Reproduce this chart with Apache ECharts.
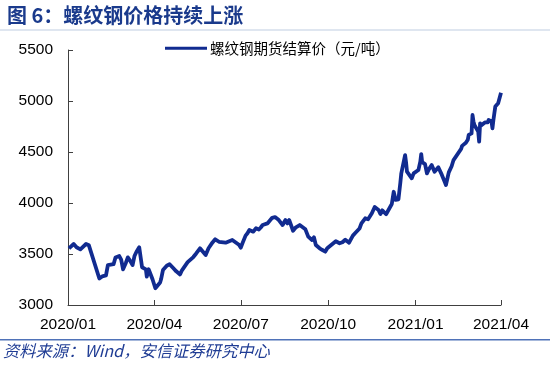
<!DOCTYPE html>
<html>
<head>
<meta charset="utf-8">
<script src="https://cdn.jsdelivr.net/npm/echarts@6/dist/echarts.min.js"></script>
<style>
html,body{margin:0;padding:0;background:#fff;}
#main{width:550px;height:370px;}
</style>
</head>
<body>
<div id="main"></div>
<script>
var dates = [
'2020-01-02','2020-01-07','2020-01-10','2020-01-14','2020-01-20','2020-01-21','2020-01-23',
'2020-02-03','2020-02-06','2020-02-10','2020-02-12','2020-02-14','2020-02-18','2020-02-20','2020-02-24','2020-02-26','2020-02-28',
'2020-03-02','2020-03-04','2020-03-06','2020-03-09','2020-03-11','2020-03-13','2020-03-16','2020-03-17','2020-03-19','2020-03-23','2020-03-24','2020-03-26','2020-03-30',
'2020-04-02','2020-04-07','2020-04-08','2020-04-10','2020-04-14','2020-04-17','2020-04-21','2020-04-24','2020-04-28','2020-04-30',
'2020-05-06','2020-05-08','2020-05-12','2020-05-15','2020-05-19','2020-05-21','2020-05-25','2020-05-28',
'2020-06-01','2020-06-04','2020-06-08','2020-06-10','2020-06-15','2020-06-17','2020-06-22','2020-06-29',
'2020-07-01','2020-07-03','2020-07-06','2020-07-08','2020-07-10','2020-07-14','2020-07-17','2020-07-20','2020-07-22','2020-07-24','2020-07-29',
'2020-08-03','2020-08-06','2020-08-10','2020-08-14','2020-08-17','2020-08-19','2020-08-21','2020-08-25','2020-08-28',
'2020-09-01','2020-09-03','2020-09-07','2020-09-10','2020-09-14','2020-09-16','2020-09-18','2020-09-22','2020-09-25','2020-09-28','2020-09-30',
'2020-10-09','2020-10-13','2020-10-16','2020-10-19','2020-10-21','2020-10-23','2020-10-27','2020-10-30',
'2020-11-03','2020-11-05','2020-11-09','2020-11-12','2020-11-16','2020-11-19','2020-11-23','2020-11-25','2020-11-27',
'2020-12-01','2020-12-03','2020-12-07','2020-12-09','2020-12-11','2020-12-14','2020-12-16','2020-12-17','2020-12-21','2020-12-22','2020-12-23','2020-12-28','2020-12-30',
'2021-01-04','2021-01-06','2021-01-07','2021-01-08','2021-01-11','2021-01-13','2021-01-15','2021-01-18','2021-01-21','2021-01-25','2021-01-28',
'2021-02-01','2021-02-02','2021-02-04','2021-02-05','2021-02-08','2021-02-10','2021-02-18','2021-02-19','2021-02-23','2021-02-25','2021-02-26',
'2021-03-01','2021-03-02','2021-03-03','2021-03-04','2021-03-05','2021-03-08','2021-03-09','2021-03-10','2021-03-11','2021-03-12','2021-03-15','2021-03-16','2021-03-17','2021-03-18','2021-03-19','2021-03-22','2021-03-23','2021-03-24','2021-03-25','2021-03-26','2021-03-29','2021-03-30','2021-03-31','2021-04-01'
];
var prices = [
3556,3598,3566,3546,3598,3588,3585,
3260,3280,3290,3390,3380,3400,3465,3480,3445,3350,
3415,3467,3440,3392,3480,3520,3566,3560,3370,3350,3278,3350,3252,
3164,3220,3252,3343,3385,3400,3360,3330,3300,3340,
3420,3430,3470,3505,3556,3540,3490,3556,
3611,3644,3620,3605,3611,3605,3637,3590,
3562,3611,3680,3703,3735,3719,3752,3740,3760,3784,3800,
3855,3862,3833,3784,3833,3800,3833,3728,3762,
3784,3800,3742,3670,3637,3664,3588,3556,3539,3523,3556,
3625,3605,3615,3640,3654,3611,3680,3710,
3750,3800,3850,3840,3899,3960,3931,3892,3928,
3890,3905,3990,4110,4030,4036,4200,4291,4470,4400,4307,4242,4290,
4323,4405,4480,4400,4382,4291,4330,4372,4307,4350,4291,
4200,4176,4260,4300,4360,4421,4530,4560,4590,4620,4667,
4683,4863,4800,4765,4781,4700,4601,4781,4760,4748,4790,4797,4781,4790,4814,4800,4732,4814,4880,4945,4977,4980,4977,5080
];
var xTickDates = ['2020-01-01','2020-04-01','2020-07-01','2020-10-01','2021-01-01','2021-04-01'];
var xTickLabels = ['2020/01','2020/04','2020/07','2020/10','2021/01','2021/04'];
var yTicks = [3000,3500,4000,4500,5000,5500];
var seriesName = '螺纹钢期货结算价（元/吨）';
var titleText = '图 6：螺纹钢价格持续上涨';
var sourceText = '资料来源：Wind，安信证券研究中心';

function toTs(s){var p=s.split('-');return Date.UTC(+p[0],+p[1]-1,+p[2]);}
var tickTs = xTickDates.map(toTs);
var labelMap = {};
tickTs.forEach(function(t,i){labelMap[t]=xTickLabels[i];});
var seriesData = dates.map(function(d,i){return [toTs(d),prices[i]];});

var chart = echarts.init(document.getElementById('main'));
var lineColor = '#112b90';
chart.setOption({
  animation:false,
  backgroundColor:'#fff',
  title:{
    text:titleText,
    left:2, top:0,
    textStyle:{fontFamily:'"Noto Sans CJK SC","Noto Sans",sans-serif',fontSize:20,fontWeight:'bold',color:'#1a3a8c'}
  },
  graphic:[
    {type:'rect',shape:{x:0,y:29,width:550,height:2},style:{fill:'#dfe6f0'}},
    {type:'rect',shape:{x:0,y:339,width:550,height:1.5},style:{fill:'#4f72b8'}},
    {type:'text',left:3,top:343,style:{text:sourceText,fill:'#1f3c94',font:'italic 16.3px "Noto Sans CJK SC", "Liberation Sans", sans-serif'}}
  ],
  legend:{
    left:160, top:36,
    itemWidth:42, itemHeight:10, itemGap:4,
    icon:'path://M0,3.5L42,3.5L42,6.5L0,6.5Z',
    textStyle:{fontFamily:'"Noto Sans CJK SC",sans-serif',fontSize:14.5,color:'#000',padding:[0,0,0,-2]},
    data:[{name:seriesName,itemStyle:{color:lineColor}}]
  },
  grid:{left:68,right:49,top:50,bottom:65},
  xAxis:{
    type:'value',
    min:tickTs[0], max:tickTs[tickTs.length-1],
    splitLine:{show:false},
    axisLine:{lineStyle:{color:'#404040',width:1}},
    axisTick:{show:true,inside:true,length:5,customValues:tickTs,lineStyle:{color:'#404040'}},
    axisLabel:{customValues:tickTs,margin:12,fontFamily:'"Liberation Sans",Arial,sans-serif',fontSize:15.5,color:'#000',
      formatter:function(v){return labelMap[v]||'';}}
  },
  yAxis:{
    type:'value',min:yTicks[0],max:yTicks[yTicks.length-1],interval:500,
    splitLine:{show:false},
    axisLine:{show:true,lineStyle:{color:'#404040',width:1}},
    axisTick:{show:true,inside:true,length:5,lineStyle:{color:'#404040'}},
    axisLabel:{margin:15,fontFamily:'"Liberation Sans",Arial,sans-serif',fontSize:15.5,color:'#000',
      formatter:function(v){return String(v);}}
  },
  series:[{
    name:seriesName,type:'line',data:seriesData,showSymbol:false,symbol:'none',
    lineStyle:{color:lineColor,width:3.8,join:'round'},itemStyle:{color:lineColor}
  }]
});
</script>
</body>
</html>
